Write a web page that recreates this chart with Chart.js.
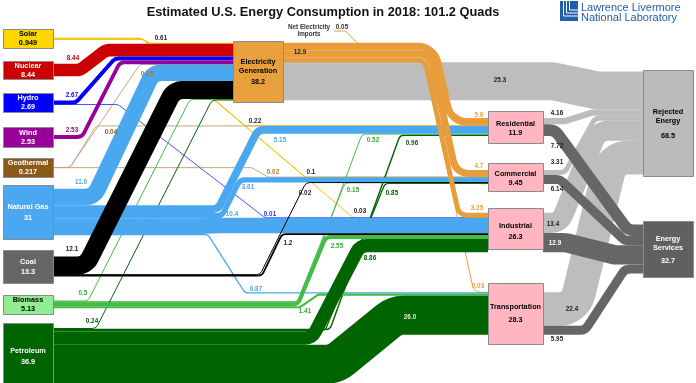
<!DOCTYPE html>
<html><head><meta charset="utf-8">
<script src="https://cdn.jsdelivr.net/npm/chart.js@4.4.1/dist/chart.umd.min.js"></script>
<style>html,body{margin:0;padding:0;background:#fff;}#wrap{width:696px;height:383px;position:relative;}</style>
</head><body><div id="wrap"><canvas id="c"></canvas></div>
<script>
// ---------------- DATA ----------------
const chartTitle = 'Estimated U.S. Energy Consumption in 2018: 101.2 Quads';
const nodeNames = ['Solar','Nuclear','Hydro','Wind','Geothermal','Natural Gas','Coal','Biomass','Petroleum',
  'Electricity\nGeneration','Residential','Commercial','Industrial','Transportation','Rejected\nEnergy','Energy\nServices'];
const nodeValueText = ['0.949','8.44','2.69','2.53','0.217','31','13.3','5.13','36.9','38.2','11.9','9.45','26.3','28.3','68.5','32.7'];
// flows (source index, target index, value in quads, label text)
const flowFrom   = [0,0,0,0, 4,4,4, 2, 8,8, 7,7, 9, 7,8, 1,2,3, 5,5,5,5,5, 6,6,6, 7,7, 8,8, 9,9,9,9, 10,11,12,13, 10,11,12,13];
const flowTo     = [9,10,11,12, 9,10,11, 12, 10,11, 10,11, 13, 9,9, 9,9,9, 9,10,11,12,13, 11,12,9, 12,13, 12,13, 14,10,11,12, 14,14,14,14, 15,15,15,15];
const flowValues = [0.61,0.22,0.1,0.03, 0.15,0.04,0.02, 0.01, 0.96,0.85, 0.52,0.15, 0.03, 0.5,0.24, 8.44,2.67,2.53,
  11.0,5.15,3.61,10.4,0.87, 0.02,1.2,12.1, 2.55,1.41, 8.86,26.0, 25.3,5.0,4.7,3.25, 4.16,3.31,13.4,22.4, 7.72,6.14,12.9,5.95];
const flowText   = ['0.61','0.22','0.1','0.03','0.15','0.04','0.02','0.01','0.96','0.85','0.52','0.15','0.03','0.5','0.24',
  '8.44','2.67','2.53','11.0','5.15','3.61','10.4','0.87','0.02','1.2','12.1','2.55','1.41','8.86','26.0',
  '25.3','5.0','4.7','3.25','4.16','3.31','13.4','22.4','7.72','6.14','12.9','5.95'];
const importsValueText = '0.05';
const electricityUsedText = '12.9';

// ---------------- LAYOUT / STYLE ----------------
const QUAD = 1.5; // y-axis units per quad of flow
const nodeBox = [[3,29,50,19],[3,61,50,18],[3,93,50,19],[3,127,50,20],[3,158,50,19],[3,185,50,54],[3,250,50,33],[3,295,50,19],[3,323,50,66],
  [233,41,50,61],[488,111,55,32],[488,163,55,28],[488,208,55,41],[488,283,55,61],[643,70,50,106],[643,221,50,56]];
const nodeShift = [0,0,0,0,0,0,0,0,0,0,0,0,4,0,0,0];
const nodeFill = ['#FFD700','#CC0000','#0000FF','#990099','#8B5A1A','#4AA8F0','#666666','#90EE90','#006400',
  '#E8A03C','#FFB6C1','#FFB6C1','#FFB6C1','#FFB6C1','#BBBBBB','#606060'];
const nodeTextColor = ['#000','#fff','#fff','#fff','#fff','#fff','#fff','#000','#fff','#000','#000','#000','#000','#000','#000','#fff'];
const nodeLabelGap = [0,0,0,0,0,2,1,0,2,2,0,0,2,4,6,4];
const nodeLabelShift = [0,0,0,0,0,0,0,0,0,0,1,1,3,0,1,1];
const sourceColor = ['#F2C500','#CC0000','#0000FF','#990099','#C8A57E','#4AA8F0','#000000','#44BB44','#006400','#E89D3A'];
// route: interior corner points [x, 'S' (source level) | 'T' (target level) | y]
const flowRoute = [
  [[140,'S'],[150,'T']], [[143,'S'],[245,'T']], [[143,'S'],[305,'T']], [[143,'S'],[353,'T']],
  [[70,'S'],[140,'T']], [[70,'S'],[96,'T']], [[252,'S'],[268,'T']],
  [[118,'S'],[265,'T']],
  [[330,'S'],[400,'T']], [[325,'S'],[385,'T']],
  [[300,'S'],[362,'T']], [[297,'S'],[345,'T']],
  [[423.7,'S'],[474,'T']],
  [[88,'S'],[190,'T']], [[96,'S'],[212,'T']],
  [[80,'S'],[106,'T']], [[76,'S'],[115,'T']], [[82,'S'],[120,'T']],
  [[94,'S'],[153,'T']], [[218,'S'],[258,'T']], [[222,'S'],[240,'T']], [[200,'S'],[220,'T']], [[208,'S'],[245,'T']],
  [[260,'S'],[306,'T']], [[262,'S'],[282,'T']], [[86,'S'],[174,'T']],
  [[298,'S'],[326,'T']], [[300,'S'],[318,'T']],
  [[312,'S'],[360,'T']], [[335,'S'],[395,'T']],
  [[553,'S'],[598,'T']], [[434,'S'],[451,'T']], [[430,'S'],[456,'T']], [[425,'S'],[459,'T']],
  [[565,'S'],[592,'T']], [[565,'S'],[595,'T']], [[560,'S'],[598,'T']], [[575,'S'],[612,'T']],
  [[555,'S'],[628,'T']], [[560,'S'],[625,'T']], [[565,'S'],[615,'T']], [[585,'S'],[625,'T']]
];
const flowRadius = {31:20, 32:15, 33:10, 12:8, 0:5, 1:6, 2:6, 3:6, 16:7};
const flowLabelPos = [[161,38,'#222'],[255,121,'#222'],[311,172,'#222'],[360,211,'#222'],[147,74,'#B07830'],[111,132,'#8B5A2B'],[273,172,'#B07830'],
  [270,214,'#3333CC'],[412,143,'#006400'],[392,193,'#006400'],[373,140,'#33AA33'],[353,190,'#33AA33'],[478,286,'#E8A03C'],
  [83,293,'#33AA33'],[92,321,'#006400'],[73,58,'#CC0000'],[72,95,'#0000FF'],[72,130,'#990099'],[81,182,'#4AA8F0'],
  [280,140,'#4AA8F0'],[248,187,'#4AA8F0'],[232,214,'#4AA8F0'],[256,289,'#4AA8F0'],[305,193,'#222'],[288,243,'#222'],
  [72,249,'#222'],[337,246,'#33AA33'],[305,311,'#33AA33'],[370,258,'#006400'],[410,317,'#E8E8E8'],
  [500,80,'#222'],[479,115,'#E8A03C'],[479,166,'#E8A03C'],[477,208,'#E8A03C'],
  [557,113,'#222'],[557,162,'#222'],[553,224,'#222'],[572,309,'#222'],[557,146,'#222'],[557,189,'#222'],[555,243,'#FFFFFF'],[557,339,'#222']];

const FONT = '"Liberation Sans", Arial, sans-serif';

function flowColor(i) {
  const s = flowFrom[i], t = flowTo[i];
  if (t === 14) return '#BDBDBD';
  if (t === 15) return '#666666';
  if (s === 2 && t === 12) return '#5050FF';
  return sourceColor[s];
}

const sankeyPlugin = {
  id: 'sankeyFlows',
  afterDatasetsDraw(chart) {
    const ctx = chart.ctx;
    const xs = chart.scales.x, ys = chart.scales.y;
    const X = v => xs.getPixelForValue(v), Y = v => ys.getPixelForValue(v);
    const W = q => Math.abs(Y(q * QUAD) - Y(0));
    const n = flowValues.length;
    const outY = new Array(n), inY = new Array(n);
    const idx = flowValues.map((v, i) => i);
    const key = s => (s === 9 ? -1 : s);
    nodeNames.forEach((_, nd) => {
      const b = nodeBox[nd];
      const cy = b[1] + b[3] / 2 + nodeShift[nd];
      const stack = (list, arr) => {
        const tot = list.reduce((a, i) => a + flowValues[i] * QUAD, 0);
        let y = cy - tot / 2;
        list.forEach(i => { arr[i] = y + flowValues[i] * QUAD / 2; y += flowValues[i] * QUAD; });
      };
      stack(idx.filter(i => flowFrom[i] === nd).sort((a, c) => flowTo[a] - flowTo[c]), outY);
      stack(idx.filter(i => flowTo[i] === nd).sort((a, c) => key(flowFrom[a]) - key(flowFrom[c])), inY);
    });

    const roundPath = (pts, r) => {
      ctx.beginPath();
      ctx.moveTo(pts[0][0], pts[0][1]);
      for (let i = 1; i < pts.length - 1; i++) {
        const p = pts[i], a = pts[i - 1], c = pts[i + 1];
        const v1 = [a[0] - p[0], a[1] - p[1]], v2 = [c[0] - p[0], c[1] - p[1]];
        const l1 = Math.hypot(v1[0], v1[1]), l2 = Math.hypot(v2[0], v2[1]);
        if (l1 < 0.01 || l2 < 0.01) { ctx.lineTo(p[0], p[1]); continue; }
        const cos = (v1[0] * v2[0] + v1[1] * v2[1]) / (l1 * l2);
        const phi = Math.acos(Math.max(-1, Math.min(1, cos)));
        if (phi > Math.PI - 0.01) { ctx.lineTo(p[0], p[1]); continue; }
        const rr = Math.min(r, Math.min(l1, l2) / 2 * Math.tan(phi / 2));
        ctx.arcTo(p[0], p[1], c[0], c[1], Math.max(0.1, rr));
      }
      const last = pts[pts.length - 1];
      ctx.lineTo(last[0], last[1]);
    };

    ctx.save();
    ctx.lineCap = 'butt';
    ctx.lineJoin = 'round';
    // net electricity imports feed line
    ctx.strokeStyle = '#E89D3A'; ctx.lineWidth = 1;
    roundPath([[X(334), Y(31)], [X(346), Y(31)], [X(358), Y(44)], [X(372), Y(44)]], 6);
    ctx.stroke();

    for (let i = 0; i < n; i++) {
      const s = flowFrom[i], t = flowTo[i];
      const sb = nodeBox[s], tb = nodeBox[t];
      const pts = [[sb[0] + sb[2], outY[i]]];
      flowRoute[i].forEach(([x, y]) => pts.push([x, y === 'S' ? outY[i] : y === 'T' ? inY[i] : y]));
      pts.push([tb[0], inY[i]]);
      const pp = pts.map(p => [X(p[0]), Y(p[1])]);
      const w = Math.max(1, W(flowValues[i]));
      const r = flowRadius[i] !== undefined ? flowRadius[i] : Math.max(6, w / 2 + 5);
      ctx.strokeStyle = flowColor(i);
      ctx.lineWidth = w;
      roundPath(pp, r);
      ctx.stroke();
    }

    // nodes
    nodeNames.forEach((name, nd) => {
      const b = nodeBox[nd];
      const x0 = Math.round(X(b[0])) + 0.5, y0 = Math.round(Y(b[1])) + 0.5;
      const x1 = Math.round(X(b[0] + b[2])) + 0.5, y1 = Math.round(Y(b[1] + b[3])) + 0.5;
      ctx.fillStyle = nodeFill[nd];
      ctx.fillRect(x0, y0, x1 - x0, y1 - y0);
      ctx.strokeStyle = '#8A8A8A'; ctx.lineWidth = 1;
      ctx.strokeRect(x0, y0, x1 - x0, y1 - y0);
      const lines = name.split('\n');
      const LH = 9;
      const gap = nodeLabelGap[nd];
      const tot = (lines.length + 1) * LH + gap;
      const cy = Y(b[1] + b[3] / 2 + nodeLabelShift[nd]);
      let y = cy - tot / 2 + LH / 2;
      ctx.fillStyle = nodeTextColor[nd];
      ctx.font = 'bold 7.3px ' + FONT;
      ctx.textAlign = 'center'; ctx.textBaseline = 'middle';
      const cx = X(b[0] + b[2] / 2);
      lines.forEach(l => { ctx.fillText(l, cx, y); y += LH; });
      ctx.fillText(nodeValueText[nd], cx, y + gap);
    });

    // flow labels
    ctx.font = 'bold 6.3px ' + FONT;
    ctx.textAlign = 'center'; ctx.textBaseline = 'middle';
    flowLabelPos.forEach((p, i) => {
      ctx.fillStyle = p[2];
      ctx.fillText(flowText[i], X(p[0]), Y(p[1]));
    });
    ctx.fillStyle = '#222';
    ctx.fillText(electricityUsedText, X(300), Y(52));
    ctx.fillStyle = '#333';
    ctx.fillText('Net Electricity', X(309), Y(27));
    ctx.fillText('Imports', X(309), Y(34.5));
    ctx.fillText(importsValueText, X(342), Y(27));

    // title
    ctx.fillStyle = '#111';
    ctx.font = 'bold 12.8px ' + FONT;
    ctx.fillText(chartTitle, X(323), Y(12));

    // logo
    ctx.fillStyle = '#1F5FAE';
    ctx.fillRect(X(560), Y(1), 18, 20);
    ctx.strokeStyle = '#fff'; ctx.lineWidth = 1;
    [[563.5, 16], [566.5, 13], [569.5, 10]].forEach(([x, yb]) => {
      ctx.beginPath(); ctx.moveTo(X(x), Y(1)); ctx.lineTo(X(x), Y(yb)); ctx.lineTo(X(578), Y(yb)); ctx.stroke();
    });
    ctx.fillStyle = '#1F5FAE';
    ctx.textAlign = 'left'; ctx.textBaseline = 'alphabetic';
    ctx.font = '11px ' + FONT;
    ctx.fillText('Lawrence Livermore', X(581), Y(11));
    ctx.fillText('National Laboratory', X(581), Y(21));
    ctx.restore();
  }
};

new Chart(document.getElementById('c'), {
  type: 'scatter',
  data: { datasets: [{ data: [], pointRadius: 0 }] },
  options: {
    responsive: true, maintainAspectRatio: false, animation: false,
    layout: { padding: 0 },
    scales: {
      x: { type: 'linear', min: 0, max: 696, display: false },
      y: { type: 'linear', min: 0, max: 383, reverse: true, display: false }
    },
    plugins: { legend: { display: false }, tooltip: { enabled: false }, title: { display: false } }
  },
  plugins: [sankeyPlugin]
});
</script>
</body></html>
